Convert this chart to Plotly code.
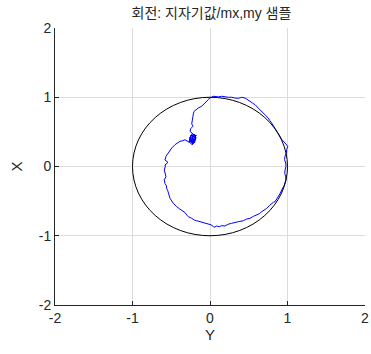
import plotly.graph_objects as go

# Magnetometer samples (horizontal axis "Y" = my, vertical axis "X" = mx)
my_vals = [
    -0.232, -0.194, -0.258, -0.219, -0.181, -0.245, -0.271, -0.206, -0.232, -0.214,
    -0.190, -0.248, -0.222, -0.176, -0.236, -0.265, -0.200, -0.185, -0.228, -0.255,
    -0.262, -0.323, -0.350, -0.387, -0.420, -0.452, -0.494, -0.516, -0.538, -0.552,
    -0.568, -0.581, -0.542, -0.581, -0.575, -0.590, -0.575, -0.568, -0.590, -0.581,
    -0.562, -0.559, -0.545, -0.538, -0.530, -0.516, -0.474, -0.455, -0.430, -0.395,
    -0.365, -0.340, -0.323, -0.300, -0.280, -0.236, -0.200, -0.172, -0.120, -0.086,
    -0.050, -0.022, 0.022, 0.050, 0.086, 0.120, 0.151, 0.194, 0.230, 0.280,
    0.320, 0.365, 0.400, 0.430, 0.470, 0.516, 0.560, 0.603, 0.640, 0.667,
    0.700, 0.732, 0.770, 0.796, 0.820, 0.839, 0.862, 0.881, 0.905, 0.925,
    0.946, 0.960, 0.968, 0.980, 0.977, 0.965, 0.968, 0.980, 0.977, 0.962,
    0.968, 0.985, 0.990, 1.003, 0.968, 0.940, 0.925, 0.915, 0.903, 0.885,
    0.874, 0.860, 0.839, 0.815, 0.796, 0.770, 0.752, 0.720, 0.688, 0.660,
    0.623, 0.600, 0.581, 0.550, 0.516, 0.480, 0.452, 0.410, 0.365, 0.320,
    0.280, 0.240, 0.194, 0.151, 0.110, 0.065, 0.040, 0.022, -0.005, -0.022,
    -0.045, -0.065, -0.090, -0.107, -0.151, -0.170, -0.181, -0.195, -0.206, -0.210,
    -0.215, -0.220, -0.228, -0.232, -0.236, -0.219, -0.250, -0.258, -0.190, -0.194,
    -0.240, -0.225, -0.205, -0.180, -0.245, -0.260, -0.212,
]
mx_vals = [
    0.412, 0.469, 0.383, 0.325, 0.426, 0.455, 0.354, 0.383, 0.310, 0.470,
    0.400, 0.330, 0.440, 0.450, 0.365, 0.420, 0.340, 0.410, 0.480, 0.395,
    0.345, 0.387, 0.372, 0.364, 0.340, 0.315, 0.267, 0.230, 0.195, 0.160,
    0.147, 0.094, 0.060, 0.022, 0.007, -0.051, -0.100, -0.147, -0.190, -0.243,
    -0.280, -0.315, -0.350, -0.387, -0.420, -0.459, -0.531, -0.560, -0.581, -0.610,
    -0.628, -0.653, -0.665, -0.700, -0.725, -0.748, -0.775, -0.783, -0.797, -0.805,
    -0.820, -0.830, -0.845, -0.878, -0.860, -0.869, -0.855, -0.859, -0.835, -0.820,
    -0.805, -0.797, -0.790, -0.783, -0.760, -0.748, -0.720, -0.700, -0.680, -0.653,
    -0.630, -0.604, -0.560, -0.531, -0.515, -0.508, -0.470, -0.436, -0.390, -0.339,
    -0.300, -0.267, -0.230, -0.195, -0.150, -0.098, -0.050, -0.003, 0.050, 0.098,
    0.150, 0.195, 0.245, 0.292, 0.340, 0.364, 0.390, 0.412, 0.436, 0.460,
    0.484, 0.520, 0.556, 0.590, 0.628, 0.665, 0.700, 0.735, 0.773, 0.810,
    0.845, 0.870, 0.892, 0.915, 0.942, 0.970, 0.989, 0.999, 0.985, 0.989,
    1.000, 0.999, 1.010, 1.014, 1.005, 1.014, 1.014, 1.000, 0.989, 0.965,
    0.942, 0.915, 0.892, 0.870, 0.845, 0.825, 0.806, 0.806, 0.795, 0.787,
    0.760, 0.725, 0.690, 0.653, 0.615, 0.581, 0.545, 0.508, 0.440, 0.397,
    0.368, 0.430, 0.350, 0.415, 0.455, 0.375, 0.330,
]
CIRCLE_RADIUS = 1.0

TITLE = "회전: 지자기값/mx,my 샘플"
X_LABEL = "Y"
Y_LABEL = "X"
TICKS = [-2, -1, 0, 1, 2]

FONT = "Liberation Sans, Arial, Noto Sans CJK KR, sans-serif"

fig = go.Figure()
fig.add_shape(type="circle", xref="x", yref="y",
              x0=-CIRCLE_RADIUS, x1=CIRCLE_RADIUS, y0=-CIRCLE_RADIUS, y1=CIRCLE_RADIUS,
              line=dict(color="black", width=1), layer="above")
fig.add_trace(go.Scatter(x=my_vals, y=mx_vals, mode="lines",
                         line=dict(color="#0000ff", width=1), showlegend=False,
                         hoverinfo="skip"))

axis_common = dict(
    range=[-2, 2], tickvals=TICKS, ticktext=[str(t) for t in TICKS],
    showgrid=True, gridcolor="#dcdcdc", gridwidth=1, zeroline=False,
    showline=True, linecolor="#262626", linewidth=1,
    ticks="inside", ticklen=4, tickcolor="#262626",
    tickfont=dict(family=FONT, size=14, color="#262626"),
    mirror=False, fixedrange=True, automargin=False,
)

fig.update_layout(
    width=371, height=354,
    margin=dict(l=55, r=6, t=28, b=49),
    paper_bgcolor="white", plot_bgcolor="white",
    title=dict(text=TITLE, x=0.57, xanchor="center", y=0.963, yanchor="middle",
               font=dict(family=FONT, size=14, color="#262626")),
    xaxis=dict(title=dict(text=X_LABEL, font=dict(family=FONT, size=15, color="#262626"),
                          standoff=2), **axis_common),
    yaxis=dict(title=dict(text=Y_LABEL, font=dict(family=FONT, size=15, color="#262626"),
                          standoff=12), **axis_common),
)

fig.write_html("out.html", config={"displayModeBar": False},
               post_script="document.body.style.margin='0';")
